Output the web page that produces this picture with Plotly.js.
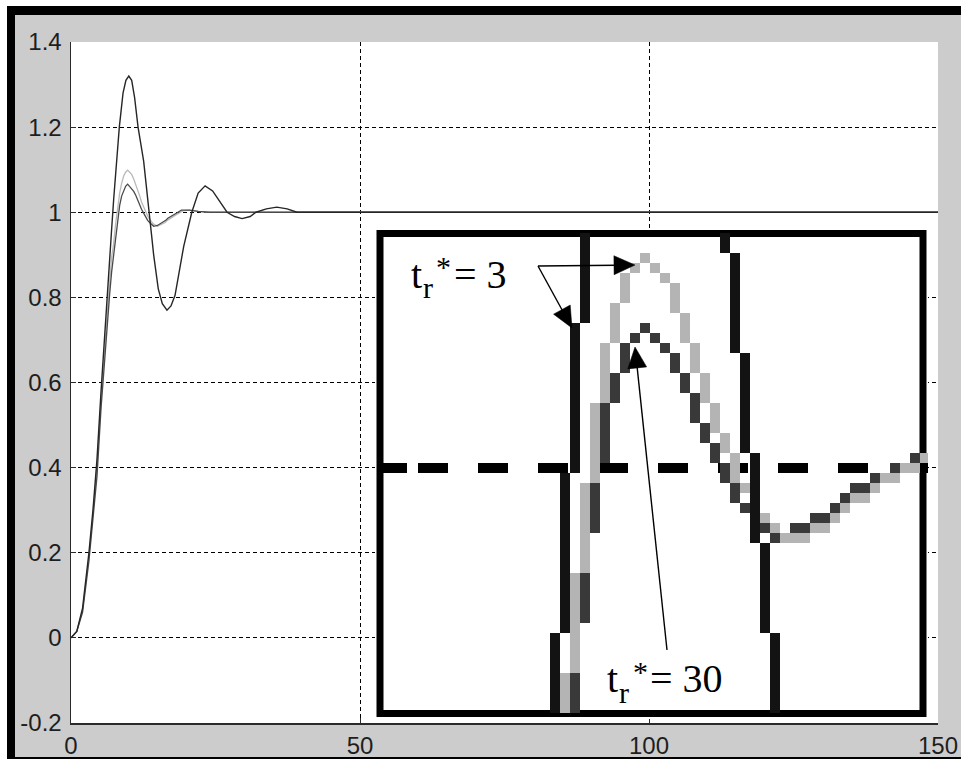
<!DOCTYPE html>
<html><head><meta charset="utf-8">
<script src="https://cdn.plot.ly/plotly-3.0.1.min.js"></script>
<style>html,body{margin:0;padding:0;background:#fff;overflow:hidden}#chart{width:961px;height:759px}</style>
</head><body><div id="chart"></div>
<script>
// ---------- main step responses ----------
const tDark = [0,1,2,3.1,3.8,4.5,5.2,6.2,6.7,7.03,7.38,7.72,8.36,9,9.5,10,10.5,11,11.6,12.57,12.91,13.26,13.6,13.95,14.3,15.1,15.8,16.6,17.3,18,19.5,20.9,22,23.2,24.5,25.8,27,28.3,29.6,31,32,33.8,35.6,37.4,39.1,45,150];
const yDark = [0,0.015,0.07,0.2,0.3,0.42,0.58,0.8,0.9,0.96,1.03,1.09,1.2,1.28,1.31,1.32,1.31,1.27,1.2,1.12,1.08,1.03,0.99,0.945,0.9,0.82,0.785,0.77,0.78,0.805,0.92,1.0,1.045,1.062,1.05,1.025,1.0,0.99,0.985,0.99,1.0,1.008,1.012,1.008,1.0,1.0,1.0];

const tLight = [0,1,2,3.1,3.8,4.5,5.2,6.2,6.7,7.03,7.38,7.72,8.07,8.42,8.76,9.11,9.45,9.8,10.15,10.5,10.85,11.2,11.55,11.9,12.2,12.57,12.91,13.26,13.6,13.95,14.3,14.95,15.65,16.3,16.65,17.15,17.8,18.3,18.95,19.5,20.5,22,24,150];
const yLight = [0,0.015,0.065,0.19,0.29,0.4,0.56,0.76,0.84,0.894,0.927,0.972,1.011,1.045,1.068,1.085,1.094,1.099,1.094,1.089,1.078,1.066,1.052,1.038,1.024,1.012,1.0,0.991,0.983,0.976,0.972,0.967,0.972,0.976,0.981,0.986,0.991,0.995,1.0,1.004,1.005,1.002,1.0,1.0];

const tMid = [0,1,2,3.1,3.8,4.5,5.2,6.2,6.7,7.03,7.38,7.72,8.07,8.42,8.76,9.11,9.45,9.8,10.15,10.5,10.85,11.2,11.55,11.9,12.2,12.57,12.91,13.26,13.6,13.95,14.3,14.95,15.3,16.0,16.4,16.75,17.3,17.8,18.5,19.1,20.5,22,24,150];
const yMid = [0,0.015,0.06,0.18,0.28,0.38,0.54,0.73,0.81,0.86,0.9,0.937,0.98,1.016,1.038,1.052,1.061,1.066,1.061,1.056,1.049,1.04,1.028,1.016,1.007,0.998,0.988,0.981,0.976,0.972,0.967,0.969,0.972,0.977,0.981,0.986,0.991,0.995,1.0,1.005,1.005,1.002,1.0,1.0];

const xTickVals = [0,50,100,150];
const xTickText = ['0','50','100','150'];
const yTickVals = [-0.2,0,0.2,0.4,0.6,0.8,1,1.2,1.4];
const yTickText = ['-0.2','0','0.2','0.4','0.6','0.8','1','1.2','1.4'];

// ---------- magnified inset (raster blocks: column, top row, bottom row) ----------
const lightCol = [18,19,20,21,22,23,24,25,26,27,28,29,30,31,32,33,34,35,36,37,38,39,40,41,42,43,44,45,46,47,48,49,50,51,52,53,54];
const lightTop = [44,34,25,17,11,7,4,3,2,3,4,5,8,11,14,17,20,22,25,26,28,29,30,30,30,29,29,28,27,26,26,25,24,24,23,23,22];
const lightBot = [47,43,33,24,16,10,6,3,2,3,4,7,10,13,16,19,21,24,25,27,28,29,30,30,30,29,29,28,27,26,26,25,24,24,23,23,22];

const midCol = [19,20,21,22,23,24,25,26,27,28,29,30,31,32,33,34,35,36,38,39,41,42,43,44,45,46,47,48,49,51,53];
const midTop = [44,34,25,17,14,11,10,9,10,11,12,14,16,19,21,23,25,27,29,30,29,29,28,28,27,26,25,25,24,23,22];
const midBot = [47,38,29,22,16,13,10,9,10,11,13,15,18,20,22,24,26,27,29,30,29,29,28,28,27,26,25,25,24,23,22];

const darkCol = [20,19,18,17,34,35,36,37,38,39];
const darkTop = [0,9,24,40,0,2,12,22,31,40];
const darkBot = [8,23,39,47,1,11,21,30,39,47];

const insetGridRow = 23;
const insetCols = 55;

// ---------- geometry helpers ----------
const W = 961, H = 759, ML = 71, MR = 23, MT = 42, MB = 36;
const PW = W - ML - MR, PH = H - MT - MB;
const fx = p => (p - ML) / PW;
const fy = p => (H - MB - p) / PH;
// inset: 10 px per unit, origin at pixel (380, 233)
const ix = p => (p - 380) / 10;
const iy = p => (p - 233) / 10;

function runs(cols, tops, bots) {
  const x = [], y = [];
  for (let k = 0; k < cols.length; k++) {
    x.push(cols[k] + 0.5, cols[k] + 0.5, null);
    y.push(tops[k], bots[k] + 1, null);
  }
  return {x, y};
}

const traces = [];
traces.push({x: tLight, y: yLight, type: 'scatter', mode: 'lines', line: {color: '#b9b9b9', width: 1.3}, hoverinfo: 'skip'});
traces.push({x: tMid, y: yMid, type: 'scatter', mode: 'lines', line: {color: '#4a4a4a', width: 1.3}, hoverinfo: 'skip'});
traces.push({x: tDark, y: yDark, type: 'scatter', mode: 'lines', line: {color: '#262626', width: 1.4}, hoverinfo: 'skip'});

let dashPat = '27px,11px';
for (let k = 0; k < 10; k++) dashPat += ',30px,30px';
traces.push({x: [0, insetCols], y: [insetGridRow + 0.5, insetGridRow + 0.5], xaxis: 'x2', yaxis: 'y2', type: 'scatter', mode: 'lines',
  line: {color: '#000', width: 10, dash: dashPat}, hoverinfo: 'skip'});
const rm = runs(midCol, midTop, midBot);
traces.push({x: rm.x, y: rm.y, xaxis: 'x2', yaxis: 'y2', type: 'scatter', mode: 'lines', line: {color: '#393939', width: 10}, hoverinfo: 'skip'});
const rl = runs(lightCol, lightTop, lightBot);
traces.push({x: rl.x, y: rl.y, xaxis: 'x2', yaxis: 'y2', type: 'scatter', mode: 'lines', line: {color: '#b4b4b4', width: 10}, hoverinfo: 'skip'});
const rd = runs(darkCol, darkTop, darkBot);
traces.push({x: rd.x, y: rd.y, xaxis: 'x2', yaxis: 'y2', type: 'scatter', mode: 'lines', line: {color: '#131313', width: 10}, hoverinfo: 'skip'});

// arrows as shapes (line + filled head), in inset units
function arrow(tipPx, tailPx) {
  const tx = ix(tipPx[0]), ty = iy(tipPx[1]);
  const sx = ix(tailPx[0]), sy = iy(tailPx[1]);
  const dx = tx - sx, dy = ty - sy, len = Math.hypot(dx, dy);
  const ux = dx / len, uy = dy / len;
  const hl = 2.1, hw = 0.95;
  const bx = tx - ux * hl, by = ty - uy * hl;
  const px1 = bx - uy * hw, py1 = by + ux * hw;
  const px2 = bx + uy * hw, py2 = by - ux * hw;
  return [
    {type: 'line', xref: 'x2', yref: 'y2', x0: sx, y0: sy, x1: bx + ux * 0.3, y1: by + uy * 0.3, line: {color: '#000', width: 1.4}, layer: 'above'},
    {type: 'path', xref: 'x2', yref: 'y2', path: `M${tx},${ty} L${px1},${py1} L${px2},${py2} Z`, fillcolor: '#000', line: {color: '#000', width: 0.5}, layer: 'above'}
  ];
}

const serifBig = {family: 'Liberation Serif, Times New Roman, serif', size: 40, color: '#000'};
const serifSmall = {family: 'Liberation Serif, Times New Roman, serif', size: 30, color: '#000'};
// text placed by ink-left pixel and baseline pixel (no padding round the text box)
function label(text, leftPx, basePx, font) {
  return {xref: 'x2', yref: 'y2', x: ix(leftPx - 1), y: iy(basePx + font.size * 0.216), text: text, showarrow: false,
    font: font, xanchor: 'left', yanchor: 'bottom', borderpad: 0, borderwidth: 0};
}

const tickFont = {family: 'Liberation Sans, Arial, sans-serif', size: 24, color: '#1e1e1e'};

const layout = {
  width: W, height: H,
  margin: {l: ML, r: MR, t: MT, b: MB, pad: 0},
  paper_bgcolor: '#cccccc', plot_bgcolor: '#ffffff',
  showlegend: false,
  xaxis: {range: [0, 150], tickvals: xTickVals, ticktext: xTickText, showgrid: true, gridcolor: '#000', griddash: '4px,3px', gridwidth: 1,
    zeroline: false, showline: true, linecolor: '#2a2a2a', linewidth: 1.5, ticks: 'inside', ticklen: 5, tickcolor: '#2a2a2a',
    tickfont: tickFont, ticklabelstandoff: 1, fixedrange: true},
  yaxis: {range: [-0.2, 1.4], tickvals: yTickVals, ticktext: yTickText, showgrid: true, gridcolor: '#000', griddash: '4px,3px', gridwidth: 1,
    zeroline: false, showline: true, linecolor: '#2a2a2a', linewidth: 1.5, ticks: 'inside', ticklen: 5, tickcolor: '#2a2a2a',
    tickfont: tickFont, ticklabelstandoff: 3, fixedrange: true},
  xaxis2: {domain: [fx(375), fx(928)], range: [-0.5, 54.8], anchor: 'y2', visible: false, fixedrange: true},
  yaxis2: {domain: [fy(719), fy(228)], range: [48.6, -0.5], anchor: 'x2', visible: false, fixedrange: true},
  shapes: [
    {type: 'rect', xref: 'paper', yref: 'paper', x0: fx(0), x1: fx(W), y0: fy(6), y1: fy(0), fillcolor: '#fff', line: {width: 0}},
    {type: 'rect', xref: 'paper', yref: 'paper', x0: fx(0), x1: fx(7), y0: fy(H), y1: fy(0), fillcolor: '#fff', line: {width: 0}},
    {type: 'rect', xref: 'paper', yref: 'paper', x0: fx(7), x1: fx(W), y0: fy(15), y1: fy(6), fillcolor: '#000', line: {width: 0}},
    {type: 'rect', xref: 'paper', yref: 'paper', x0: fx(7), x1: fx(15), y0: fy(H), y1: fy(6), fillcolor: '#000', line: {width: 0}},
    {type: 'rect', xref: 'paper', yref: 'paper', x0: fx(7), x1: fx(W), y0: fy(H), y1: fy(757), fillcolor: '#000', line: {width: 0}},
    {type: 'rect', xref: 'x2', yref: 'y2', x0: 0, x1: 54.3, y0: 0.05, y1: 48.05, fillcolor: '#fff', line: {color: '#000', width: 7}, layer: 'below'}
  ].concat(arrow([635, 265], [538, 266]), arrow([572, 328], [538, 266]), arrow([635, 347], [667, 650])),
  annotations: [
    label('t', 412, 288, serifBig),
    label('r', 424, 298, serifSmall),
    label('*', 437, 277, serifSmall),
    label('= 3', 455, 288, serifBig),
    label('t', 608, 692, serifBig),
    label('r', 620, 703, serifSmall),
    label('*', 634, 682, serifSmall),
    label('= 30', 651, 692, serifBig)
  ]
};

Plotly.newPlot('chart', traces, layout, {staticPlot: true, displayModeBar: false});
</script>
</body></html>
